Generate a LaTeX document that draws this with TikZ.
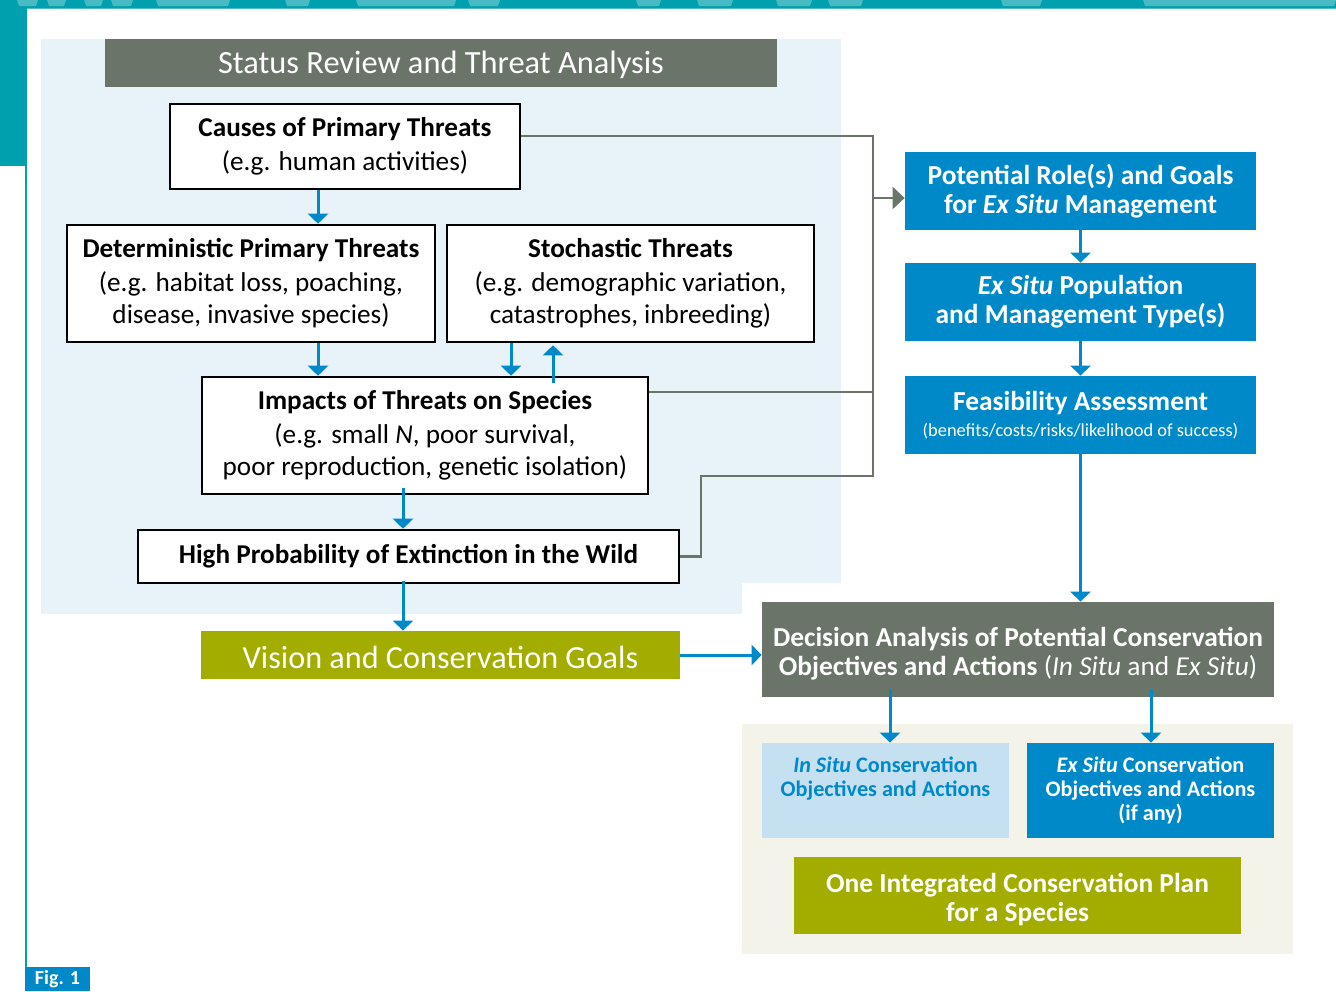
\documentclass[tikz,border=0pt]{standalone}
\usepackage{fontspec}
\setmainfont{Carlito}
\usetikzlibrary{arrows.meta,calc}
\definecolor{teal}{RGB}{0,160,174}
\definecolor{dgray}{RGB}{106,116,105}
\definecolor{lbg}{RGB}{231,242,249}
\definecolor{cblue}{RGB}{0,137,201}
\definecolor{olive}{RGB}{163,173,0}
\definecolor{beige}{RGB}{243,243,233}
\definecolor{lblue}{RGB}{196,224,241}
\tikzset{
  sz/.style 2 args={minimum width=#1*0.5pt, minimum height=#2*0.5pt},
  wbox/.style={draw=black, line width=1.3pt, fill=white, align=center, inner sep=0pt},
  fbox/.style={fill=#1, align=center, inner sep=0pt, text=white},
  ftext/.style={align=center, inner sep=0pt, text=white},
  bodyf/.style={font=\fontsize{13.6}{16}\selectfont},
  rightf/.style={font=\fontsize{13.7}{14.5}\selectfont\bfseries},
  barrow/.style={draw=cblue, line width=1.5pt, -{Triangle[width=10pt,length=5pt]}},
  garrow/.style={draw=dgray, line width=1.25pt, -{Triangle[width=11pt,length=6pt]}},
  gline/.style={draw=dgray, line width=1.25pt},
}
\begin{document}
\begin{tikzpicture}[x=0.5pt,y=-0.5pt]
\useasboundingbox (0,0) rectangle (1336,991);
% frame
\fill[white] (0,0) rectangle (1336,991);
\fill[teal] (0,0) rectangle (1336,8);
\fill[teal] (0,0) rectangle (27,166);
\fill[teal] (24.5,166) rectangle (27,991);
\foreach \a/\b in {17/38,47/66,84/103,111/133,156/230,285/310,356/456,468/500,636/661,697/733,776/812,828/863,1001/1042,1143/1336}
  \fill[white,opacity=0.28] (\a,0) -- (\b,0) -- ({\b-2},6) -- ({\a+2},6) -- cycle;
\fill[teal!70!white] (27,8) rectangle (1336,9);
% backgrounds
\fill[lbg] (41,39) -- (841,39) -- (841,583) -- (742,583) -- (742,614) -- (41,614) -- cycle;
\fill[beige] (742,724) rectangle (1293,954);
% title
\node[fbox=dgray, sz={672}{48}] (title) at (441,63) {};
\node[ftext, font=\fontsize{16.2}{17}\selectfont] (titletxt) at ($(title.center)+(0,2)$) {Status Review and Threat Analysis};
% left boxes
\node[wbox, sz={350}{85}, bodyf] (causes) at (345,146.5) {\textbf{Causes of Primary Threats}\\[1pt](e.g. human activities)};
\node[wbox, sz={368}{117}, bodyf] (det) at (251,283.5) {\textbf{Deterministic Primary Threats}\\[1pt](e.g. habitat loss, poaching,\\disease, invasive species)};
\node[wbox, sz={367}{117}, bodyf] (stoch) at (630.5,283.5) {\textbf{Stochastic Threats}\\[1pt](e.g. demographic variation,\\catastrophes, inbreeding)};
\node[wbox, sz={446}{117}, bodyf] (impacts) at (425,435.5) {\textbf{Impacts of Threats on Species}\\[1pt](e.g. small \textit{N}, poor survival,\\poor reproduction, genetic isolation)};
\node[wbox, sz={541}{53}, bodyf] (high) at (408.5,556.5) {\textbf{High Probability of Extinction in the Wild}};
\node[fbox=olive, sz={479}{48}] (vision) at (440.5,655) {};
\node[ftext, font=\fontsize{16.1}{17}\selectfont] (visiontxt) at ($(vision.center)+(0,2)$) {Vision and Conservation Goals};
% right boxes
\node[fbox=cblue, sz={351}{78}, rightf] (potential) at (1080.5,191) {Potential Role(s) and Goals\\for \textit{Ex Situ} Management};
\node[fbox=cblue, sz={351}{78}, rightf] (expop) at (1080.5,302) {\textit{Ex Situ} Population\\and Management Type(s)};
\node[fbox=cblue, sz={351}{78}] (feas) at (1080.5,415) {\fontsize{13.7}{15}\selectfont\bfseries Feasibility Assessment\\[1pt]\fontsize{9.2}{10}\selectfont\mdseries (benefits/costs/risks/likelihood of success)};
\node[fbox=dgray, sz={512}{95}] (decision) at (1018,649.5) {};
\node[ftext, rightf] (decisiontxt) at ($(decision.center)+(0,4)$) {Decision Analysis of Potential Conservation\\Objectives and Actions \mdseries(\textit{In Situ} and \textit{Ex Situ})};
\node[fbox=lblue, sz={247}{95}, text=cblue, font=\fontsize{11.1}{12}\selectfont\bfseries] (insitu) at (885.5,790.5) {\textit{In Situ} Conservation\\Objectives and Actions\\\phantom{(if any)}};
\node[fbox=cblue, sz={247}{95}, font=\fontsize{11.1}{12}\selectfont\bfseries] (exsitu) at (1150.5,790.5) {\textit{Ex Situ} Conservation\\Objectives and Actions\\(if any)};
\node[fbox=olive, sz={447}{77}] (one) at (1017.5,895.5) {};
\node[ftext, rightf] (onetxt) at ($(one.center)+(0,4)$) {One Integrated Conservation Plan\\for a Species};
% fig label
\fill[cblue] (25,967) rectangle (90,991);
\node[text=white, font=\fontsize{10}{11}\selectfont\bfseries, anchor=base, inner sep=0pt] (fig) at (57.5,984) {Fig. 1};
% coordinates
\coordinate (x318) at (318,0);
\coordinate (x511) at (511,0);
\coordinate (x553) at (553,0);
\coordinate (x403) at (403,0);
\coordinate (x890) at (890,0);
\coordinate (x1151) at (1151,0);
\coordinate (j1) at (873,136);
\coordinate (j2) at (873,392);
\coordinate (j3) at (873,476);
\coordinate (ja) at (873,198);
\coordinate (k1) at (701,476);
% gray connectors
\draw[gline] (causes.east |- j1) -- (j1) -- (j3) -- (k1) -- (k1 |- high.east) -- (high.east);
\draw[gline] (impacts.east |- j2) -- (j2);
\draw[garrow] (ja) -- (potential.west |- ja);
% blue arrows
\draw[barrow] (causes.south -| x318) -- (det.north -| x318);
\draw[barrow] (det.south -| x318) -- (impacts.north -| x318);
\draw[barrow] (stoch.south -| x511) -- (impacts.north -| x511);
\draw[barrow] ($(impacts.north -| x553)+(0,7)$) -- ($(stoch.south -| x553)+(0,2)$);
\draw[barrow] ($(impacts.south -| x403)+(0,-7)$) -- (high.north -| x403);
\draw[barrow] ($(high.south -| x403)+(0,-3)$) -- (vision.north -| x403);
\draw[barrow] (vision.east) -- (decision.west |- vision.east);
\draw[barrow] (potential.south) -- (expop.north);
\draw[barrow] (expop.south) -- (feas.north);
\draw[barrow] (feas.south) -- (decision.north -| feas.south);
\draw[barrow] ($(decision.south -| x890)+(0,-7)$) -- (insitu.north -| x890);
\draw[barrow] ($(decision.south -| x1151)+(0,-7)$) -- (exsitu.north -| x1151);
\end{tikzpicture}
\end{document}
